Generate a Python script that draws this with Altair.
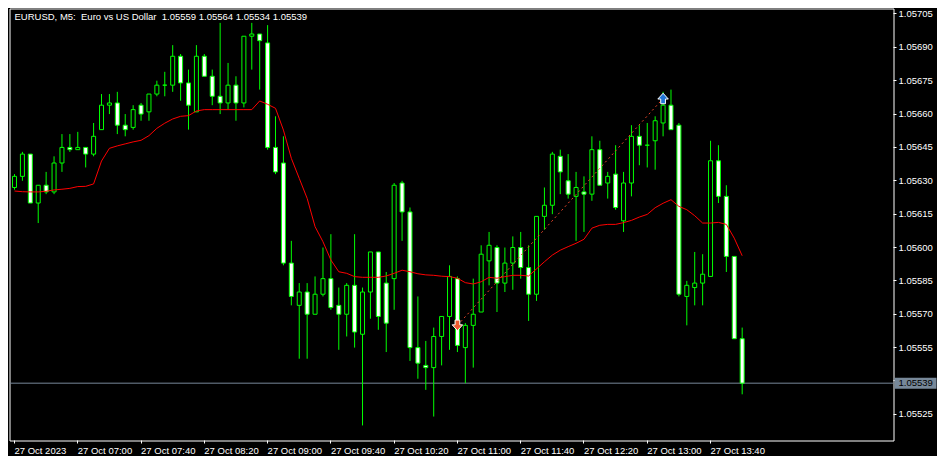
import altair as alt
import pandas as pd

# ---- data (EURUSD M5, 27 Oct 2023, 06:20 .. 14:00) ----
opens = [1.05627, 1.05632, 1.05642, 1.05620, 1.05628, 1.05625, 1.05638, 1.05645, 1.05644, 1.05645,
         1.05642, 1.05653, 1.05664, 1.05665, 1.05655, 1.05654, 1.05664, 1.05661, 1.05669, 1.05673,
         1.05673, 1.05686, 1.05674, 1.05661, 1.05686, 1.05677, 1.05668, 1.05665, 1.05673, 1.05665,
         1.05695, 1.05696, 1.05692, 1.05645, 1.05638, 1.05593, 1.05574, 1.05580, 1.05570, 1.05579,
         1.05586, 1.05574, 1.05570, 1.05583, 1.05561, 1.05580, 1.05598, 1.05584, 1.05586, 1.05629,
         1.05616, 1.05555, 1.05547, 1.05546, 1.05560, 1.05569, 1.05586, 1.05555, 1.05565, 1.05571,
         1.05594, 1.05600, 1.05584, 1.05593, 1.05600, 1.05591, 1.05579, 1.05614, 1.05619, 1.05641,
         1.05630, 1.05623, 1.05625, 1.05624, 1.05644, 1.05629, 1.05633, 1.05612, 1.05629, 1.05650,
         1.05646, 1.05648, 1.05656, 1.05664, 1.05655, 1.05578, 1.05582, 1.05584, 1.05587, 1.05639,
         1.05623, 1.05596, 1.05559]
highs = [1.05633, 1.05643, 1.05642, 1.05628, 1.05634, 1.05641, 1.05651, 1.05651, 1.05652, 1.05645,
         1.05656, 1.05669, 1.05669, 1.05670, 1.05660, 1.05664, 1.05665, 1.05669, 1.05675, 1.05679,
         1.05691, 1.05687, 1.05680, 1.05691, 1.05687, 1.05680, 1.05701, 1.05683, 1.05677, 1.05695,
         1.05701, 1.05696, 1.05700, 1.05659, 1.05650, 1.05603, 1.05584, 1.05584, 1.05587, 1.05600,
         1.05606, 1.05582, 1.05584, 1.05606, 1.05582, 1.05598, 1.05598, 1.05589, 1.05629, 1.05630,
         1.05618, 1.05578, 1.05558, 1.05564, 1.05569, 1.05592, 1.05587, 1.05566, 1.05586, 1.05601,
         1.05607, 1.05601, 1.05600, 1.05605, 1.05607, 1.05601, 1.05614, 1.05627, 1.05643, 1.05644,
         1.05642, 1.05634, 1.05632, 1.05650, 1.05648, 1.05634, 1.05646, 1.05634, 1.05655, 1.05655,
         1.05656, 1.05659, 1.05670, 1.05671, 1.05656, 1.05585, 1.05598, 1.05597, 1.05648, 1.05646,
         1.05628, 1.05596, 1.05564]
lows = [1.05626, 1.05630, 1.05620, 1.05611, 1.05624, 1.05624, 1.05634, 1.05643, 1.05644, 1.05636,
        1.05641, 1.05653, 1.05660, 1.05651, 1.05650, 1.05653, 1.05657, 1.05657, 1.05668, 1.05668,
        1.05670, 1.05666, 1.05653, 1.05661, 1.05677, 1.05664, 1.05660, 1.05662, 1.05657, 1.05663,
        1.05680, 1.05671, 1.05644, 1.05633, 1.05592, 1.05574, 1.05550, 1.05550, 1.05570, 1.05578,
        1.05572, 1.05554, 1.05560, 1.05555, 1.05520, 1.05568, 1.05563, 1.05553, 1.05572, 1.05603,
        1.05549, 1.05541, 1.05536, 1.05524, 1.05547, 1.05554, 1.05553, 1.05539, 1.05546, 1.05571,
        1.05583, 1.05571, 1.05580, 1.05581, 1.05586, 1.05567, 1.05576, 1.05608, 1.05615, 1.05624,
        1.05622, 1.05603, 1.05607, 1.05621, 1.05628, 1.05622, 1.05617, 1.05607, 1.05623, 1.05637,
        1.05636, 1.05635, 1.05650, 1.05653, 1.05578, 1.05565, 1.05574, 1.05574, 1.05587, 1.05620,
        1.05589, 1.05559, 1.05534]
closes = [1.05632, 1.05642, 1.05620, 1.05628, 1.05625, 1.05638, 1.05645, 1.05644, 1.05645, 1.05642,
          1.05650, 1.05664, 1.05665, 1.05655, 1.05653, 1.05662, 1.05660, 1.05669, 1.05673, 1.05673,
          1.05686, 1.05674, 1.05664, 1.05686, 1.05677, 1.05668, 1.05665, 1.05673, 1.05665, 1.05695,
          1.05696, 1.05693, 1.05645, 1.05634, 1.05593, 1.05578, 1.05580, 1.05570, 1.05579, 1.05586,
          1.05573, 1.05570, 1.05583, 1.05562, 1.05580, 1.05598, 1.05569, 1.05566, 1.05628, 1.05616,
          1.05555, 1.05548, 1.05546, 1.05560, 1.05569, 1.05587, 1.05556, 1.05565, 1.05570, 1.05597,
          1.05601, 1.05584, 1.05593, 1.05600, 1.05591, 1.05579, 1.05614, 1.05619, 1.05642, 1.05634,
          1.05624, 1.05627, 1.05624, 1.05644, 1.05628, 1.05632, 1.05618, 1.05629, 1.05650, 1.05646,
          1.05646, 1.05657, 1.05664, 1.05653, 1.05579, 1.05583, 1.05584, 1.05588, 1.05639, 1.05623,
          1.05596, 1.05559, 1.05539]
moving_avg = [1.056254, 1.056251, 1.056250, 1.056250, 1.056253, 1.056259, 1.056262, 1.056266, 1.056274, 1.056275,
              1.056286, 1.056389, 1.056446, 1.056457, 1.056466, 1.056475, 1.056482, 1.056503, 1.056536, 1.056559,
              1.056578, 1.056590, 1.056593, 1.056614, 1.056620, 1.056620, 1.056620, 1.056620, 1.056620, 1.056620,
              1.056620, 1.056659, 1.056644, 1.056626, 1.056528, 1.056401, 1.056311, 1.056221, 1.056094, 1.056026,
              1.055944, 1.055891, 1.055884, 1.055869, 1.055866, 1.055866, 1.055866, 1.055872, 1.055884, 1.055898,
              1.055891, 1.055882, 1.055877, 1.055875, 1.055871, 1.055869, 1.055862, 1.055842, 1.055836, 1.055846,
              1.055866, 1.055862, 1.055869, 1.055875, 1.055875, 1.055872, 1.055904, 1.055936, 1.055966, 1.055988,
              1.056004, 1.056019, 1.056037, 1.056087, 1.056100, 1.056104, 1.056104, 1.056112, 1.056122, 1.056137,
              1.056149, 1.056179, 1.056199, 1.056215, 1.056185, 1.056170, 1.056143, 1.056110, 1.056110, 1.056113,
              1.056104, 1.056042, 1.055963]

time_labels = ["27 Oct 2023", "27 Oct 07:00", "27 Oct 07:40", "27 Oct 08:20", "27 Oct 09:00",
               "27 Oct 09:40", "27 Oct 10:20", "27 Oct 11:00", "27 Oct 11:40", "27 Oct 12:20",
               "27 Oct 13:00", "27 Oct 13:40"]
price_ticks = [1.05525, 1.05540, 1.05555, 1.05570, 1.05585, 1.05600, 1.05615, 1.05630,
               1.05645, 1.05660, 1.05675, 1.05690, 1.05705]

trade_bars = [56, 82]
trade_prices = [1.05565, 1.05667]
bid_price = [1.05539]
header = ["EURUSD, M5:\u00a0 Euro vs US Dollar\u00a0 1.05559 1.05564 1.05534 1.05539"]

# ---- tables ----
n = len(opens)
df = pd.DataFrame({"i": list(range(n)), "open": opens, "high": highs, "low": lows,
                   "close": closes, "ma": moving_avg})
trade_df = pd.DataFrame({"i": trade_bars, "price": trade_prices})
sell_df = trade_df.iloc[[0]]
buy_df = trade_df.iloc[[1]]
bid_df = pd.DataFrame({"price": bid_price, "label": [f"{p:.5f}" for p in bid_price]})
head_df = pd.DataFrame({"t": header})

W, H = 884, 432
FONT = "Liberation Sans"
FS = 9.5
LIME = "#00FF00"

xscale = alt.Scale(domain=[0, 110.5], nice=False, zero=False)
yscale = alt.Scale(domain=[1.0551323, 1.0570747], nice=False, zero=False)

label_js = "[" + ",".join(f"'{s}'" for s in time_labels) + "]"
x_axis = alt.Axis(values=[8 * k for k in range(len(time_labels))],
                  labelExpr=f"{label_js}[round(datum.value/8)]",
                  labelAlign="left", labelBaseline="top", labelPadding=2,
                  labelFlush=False, labelOverlap=False, tickSize=3, domain=False,
                  title=None)
# the tick label under the bid-price box is hidden by the box, as in the terminal
bid_hidden = f"abs(datum.value - {bid_price[0]}) < 0.00005 ? '' : format(datum.value, '.5f')"
y_axis = alt.Axis(orient="right", values=price_ticks, labelExpr=bid_hidden, tickSize=3,
                  labelPadding=2, domain=False, title=None, labelBaseline="middle",
                  labelOverlap=False, labelFlush=False)

X = alt.X("i:Q", scale=xscale, axis=x_axis)

base = alt.Chart(df)

bid_rule = alt.Chart(bid_df).mark_rule(color="#778899", strokeWidth=1).encode(
    y=alt.Y("price:Q", scale=yscale, axis=y_axis))

wicks = base.mark_rule(color=LIME, strokeWidth=1, clip=True).encode(
    x=X, y=alt.Y("low:Q", scale=yscale, axis=y_axis), y2="high:Q")

bodies = base.mark_bar(size=4, stroke=LIME, strokeWidth=1, clip=True).encode(
    x=X, y=alt.Y("open:Q", scale=yscale, axis=y_axis), y2="close:Q",
    fill=alt.condition("datum.close < datum.open", alt.value("#FFFFFF"), alt.value("#000000")))

ma_line = base.mark_line(color="#FF0000", strokeWidth=1, clip=True).encode(
    x=X, y=alt.Y("ma:Q", scale=yscale, axis=y_axis))

trade_line = alt.Chart(trade_df).mark_line(color="#E8452A", strokeWidth=1,
                                            strokeDash=[2, 3]).encode(
    x=X, y=alt.Y("price:Q", scale=yscale, axis=y_axis))

down_arrow = "M-0.45,-1L0.45,-1L0.45,-0.1L1,-0.1L0,1L-1,-0.1L-0.45,-0.1Z"
up_arrow = "M-0.45,1L0.45,1L0.45,0.1L1,0.1L0,-1L-1,0.1L-0.45,0.1Z"
sell_mark = alt.Chart(sell_df).mark_point(shape=down_arrow, size=110, filled=True,
                                          fill="#EE5A2E", stroke="#FFFFFF",
                                          strokeWidth=1, opacity=1).encode(
    x=X, y=alt.Y("price:Q", scale=yscale, axis=y_axis))
buy_mark = alt.Chart(buy_df).mark_point(shape=up_arrow, size=110, filled=True,
                                        fill="#1F73D6", stroke="#FFFFFF",
                                        strokeWidth=1, opacity=1).encode(
    x=X, y=alt.Y("price:Q", scale=yscale, axis=y_axis))

title_txt = alt.Chart(head_df).mark_text(align="left", baseline="top", color="#FFFFFF",
                                         font=FONT, fontSize=FS).encode(
    x=alt.value(5), y=alt.value(3), text="t:N")

box_path = "M-1,-0.262L1,-0.262L1,0.262L-1,0.262Z"
bid_box = alt.Chart(bid_df).mark_point(shape=box_path, size=1764, filled=True,
                                       fill="#778899", strokeWidth=0, opacity=1).encode(
    x=alt.value(W + 22), y=alt.Y("price:Q", scale=yscale, axis=y_axis))
bid_text = alt.Chart(bid_df).mark_text(align="left", baseline="middle", color="#000000",
                                       font=FONT, fontSize=FS).encode(
    x=alt.value(W + 5), y=alt.Y("price:Q", scale=yscale, axis=y_axis), text="label:N")

chart = alt.layer(
    bid_rule, wicks, bodies, ma_line, trade_line, sell_mark, buy_mark,
    title_txt, bid_box, bid_text
).properties(
    width=W, height=H, background="#000000",
    padding={"left": 0.5, "top": 0.5, "right": 0, "bottom": 0}
).configure_view(
    stroke="#FFFFFF", strokeWidth=1, fill="#000000"
).configure_axis(
    grid=False, translate=0, tickColor="#FFFFFF", labelColor="#FFFFFF",
    labelFont=FONT, labelFontSize=FS, tickWidth=1
)

chart.save("out.html", embed_options={"renderer": "svg", "actions": False})
